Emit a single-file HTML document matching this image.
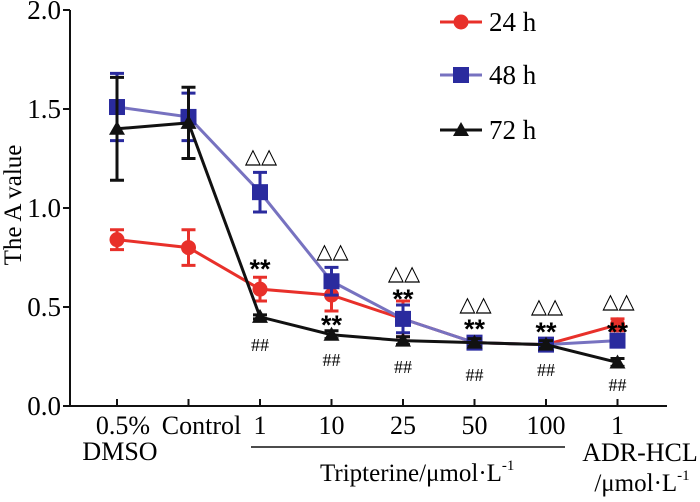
<!DOCTYPE html>
<html><head><meta charset="utf-8"><style>
body{margin:0;background:#fff}
svg{display:block;font-family:"Liberation Serif",serif}
</style></head><body>
<svg width="700" height="502" viewBox="0 0 700 502">
<g id="axes"></g><g id="plot"></g><g id="legend"></g>
</svg>
<script>
const categories=["0.5%","Control","1","10","25","50","100","1"];
const yTicks=[0.0,0.5,1.0,1.5,2.0];
const s24=[0.84,0.80,0.59,0.56,0.44,0.32,0.31,0.41];
const e24=[0.05,0.09,0.06,0.08,0.09,0.03,0.03,0.03];
const s48=[1.51,1.46,1.08,0.63,0.44,0.32,0.31,0.33];
const e48=[0.17,0.12,0.10,0.07,0.07,0.03,0.03,0.03];
const s72=[1.40,1.43,0.45,0.36,0.33,0.32,0.31,0.22];
const e72=[0.26,0.18,0.01,0.02,0.02,0.02,0.02,0.02];
const deltaMarks=[false,false,true,true,true,true,true,true];
const starMarks=[false,false,true,true,true,true,true,true];
const hashMarks=[false,false,true,true,true,true,true,true];
/* annotation layout (label centers, not data) */
const deltaY=[0,0,155,250,272,303,305,300];
const starY=[0,0,262,318,292,322,325,325];
const hashY=[0,0,345,360,367,375,370,385];
const labelShift=[6,13,0,0,0,0,0,0];

const NS="http://www.w3.org/2000/svg";
const y=v=>406-v*198;
const x=i=>117+i*71.5;
function el(tag,attrs,parent,text){const e=document.createElementNS(NS,tag);for(const k in attrs)e.setAttribute(k,attrs[k]);if(text!==undefined)e.textContent=text;parent.appendChild(e);return e;}
const axes=document.getElementById('axes'),plot=document.getElementById('plot'),legend=document.getElementById('legend');

let a=el('path',{d:'M70 10 V406 H667',fill:'none',stroke:'#111','stroke-width':2},axes);

yTicks.forEach(t=>{
 let l=el('line',{x1:63,x2:70,y1:y(t),y2:y(t),stroke:'#111','stroke-width':2},axes);
 
 let tx=el('text',{x:61,y:y(t)+9,'text-anchor':'end','font-size':27},axes,t.toFixed(1));
 
});
categories.forEach((c,i)=>{
 let l=el('line',{x1:x(i),x2:x(i),y1:399,y2:406,stroke:'#111','stroke-width':2},axes);
 
 let tx=el('text',{x:x(i)+labelShift[i],y:434,'text-anchor':'middle','font-size':26},axes,c);
 
});
let t1=el('text',{x:120,y:460,'text-anchor':'middle','font-size':26},axes,'DMSO');

let ln=el('line',{x1:251,x2:565,y1:447,y2:447,stroke:'#111','stroke-width':1.5},axes);

let t2=el('text',{x:320,y:481,'text-anchor':'start','font-size':25},axes);
t2.innerHTML='Tripterine/μmol·L<tspan dy="-11" font-size="15">-1</tspan>';

let t3=el('text',{x:640,y:461,'text-anchor':'middle','font-size':26},axes,'ADR-HCL');

let t4=el('text',{x:642,y:491,'text-anchor':'middle','font-size':25},axes);
t4.innerHTML='/μmol·L<tspan dy="-11" font-size="15">-1</tspan>';

let yt=el('text',{transform:'translate(21 205) rotate(-90)','text-anchor':'middle','font-size':25},axes,'The A value');


function marker(type,cx,cy,color,g){
 let m;
 if(type=='circle')m=el('circle',{cx,cy,r:7.5,fill:color},g);
 else if(type=='square')m=el('rect',{x:cx-8,y:cy-8,width:16,height:16,fill:color},g);
 else m=el('polygon',{points:`${cx},${cy-8} ${cx-8},${cy+6} ${cx+8},${cy+6}`,fill:color},g);
 return m;
}
const series=[
 {name:'24h',vals:s24,err:e24,color:'#e8302a',line:'#e8302a',type:'circle'},
 {name:'48h',vals:s48,err:e48,color:'#2a2b9e',line:'#7772c0',type:'square'},
 {name:'72h',vals:s72,err:e72,color:'#111',line:'#111',type:'triangle'}];
series.forEach(s=>{
 let g=el('g',{},plot);
 
 let p=el('polyline',{points:s.vals.map((v,i)=>x(i)+','+y(v)).join(' '),fill:'none',stroke:s.line,'stroke-width':3},g);
 
 s.vals.forEach((v,i)=>{
  let eb=el('path',{d:`M${x(i)} ${y(v+s.err[i])} V${y(v-s.err[i])} M${x(i)-7} ${y(v+s.err[i])} H${x(i)+7} M${x(i)-7} ${y(v-s.err[i])} H${x(i)+7}`,stroke:s.color,'stroke-width':3,fill:'none'},g);
  
  let m=marker(s.type,x(i),y(v),s.color,g);
  
 });
});
categories.forEach((c,i)=>{
 if(deltaMarks[i]){let d=el('text',{x:x(i)+1,y:deltaY[i]+8,'text-anchor':'middle','font-size':21,'font-family':'DejaVu Sans'},plot,'△△');}
 if(starMarks[i]){let st=el('text',{x:x(i),y:starY[i]+16,'text-anchor':'middle','font-size':27,'font-weight':'bold','font-family':'Liberation Sans'},plot,'**');}
 if(hashMarks[i]){let h=el('text',{x:x(i),y:hashY[i]+6,'text-anchor':'middle','font-size':18},plot,'##');}
});
[['24 h',22],['48 h',75],['72 h',130]].forEach((L,k)=>{
 const s=series[k];
 let g=el('g',{},legend);
 
 el('line',{x1:440,x2:482,y1:L[1],y2:L[1],stroke:s.line,'stroke-width':3},g);
 marker(s.type,461,L[1],s.color,g);
 el('text',{x:489,y:L[1]+9,'font-size':27},g,L[0]);
});
</script>
</body></html>
